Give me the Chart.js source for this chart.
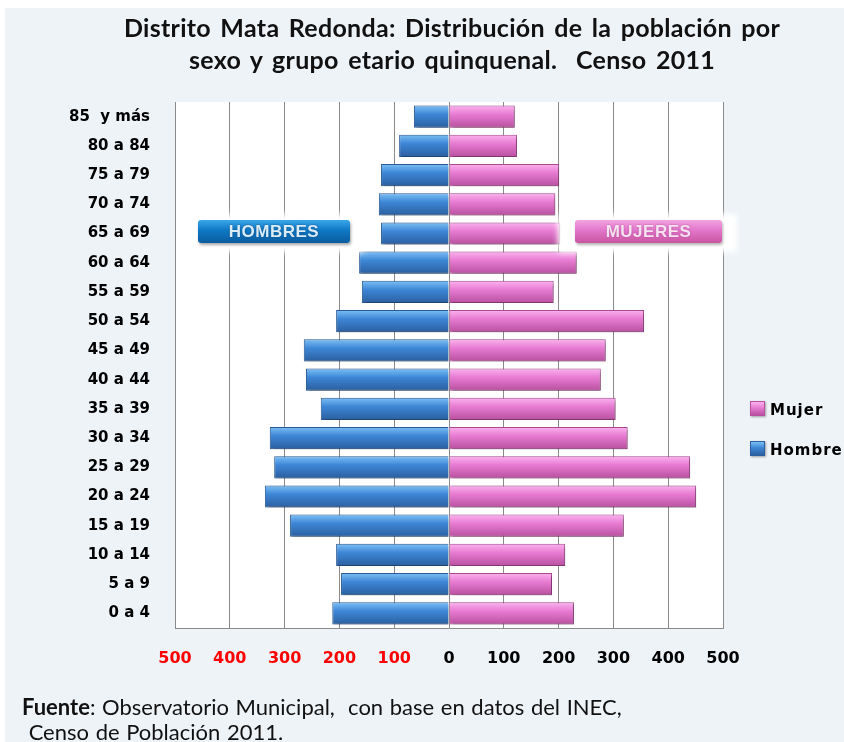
<!DOCTYPE html>
<html>
<head>
<meta charset="utf-8">
<script src="https://cdn.jsdelivr.net/npm/chart.js@4.4.0/dist/chart.umd.min.js"></script>
<style>
  body { margin: 0; background: #fff; width: 844px; height: 742px; overflow: hidden; position: relative; font-family: Lato, "Noto Sans", sans-serif; }
  #frame { position: absolute; left: 5px; top: 8px; width: 839px; height: 734px; background: #eef3f8; }
  #chart { position: absolute; left: 0; top: 0; }
  #title { position: absolute; left: 52px; top: 11px; width: 800px; text-align: center; font-weight: bold; font-size: 25px; line-height: 32px; color: #111; letter-spacing: 0.3px; word-spacing: 3px; white-space: pre; }
  .glow { position: absolute; background: #fff; box-shadow: 0 0 6px 4px #fff; }
  .badge { position: absolute; height: 23px; border-radius: 3px; color: #fff; font-family: "Liberation Sans", Arial, sans-serif; font-weight: bold; font-size: 17px; line-height: 23px; text-align: center; letter-spacing: 0.5px; }
  #hb { left: 198px; top: 220px; width: 152px; background: linear-gradient(#3aa6ea, #0f78c4 45%, #0b5c9e); text-shadow: 0 0 2px #0b4a80; color: #d9ecf8; box-shadow: 1px 2px 3px rgba(0,0,0,0.35); }
  #mb { left: 575px; top: 220px; width: 147px; background: linear-gradient(#f3a3e0, #e276cb 45%, #c9559f); color: #f6e3f1; text-shadow: 0 0 2px #b04a94; box-shadow: 1px 2px 3px rgba(0,0,0,0.3); }
  #legend { position: absolute; left: 750px; top: 400px; font-family: "DejaVu Sans", sans-serif; font-weight: bold; font-size: 15px; letter-spacing: 1px; }
  .item { height: 20px; line-height: 20px; margin-bottom: 20px; white-space: nowrap; }
  .sw { display: inline-block; width: 13px; height: 13px; vertical-align: -1px; margin-right: 5px; box-shadow: 1px 1px 2px rgba(0,0,0,0.35); }
  #note { position: absolute; left: 22px; top: 694px; font-size: 22px; line-height: 25px; color: #111; white-space: pre; word-spacing: 1px; }
</style>
</head>
<body>
<div id="frame"></div>
<canvas id="chart" width="844" height="742"></canvas>
<div id="title">Distrito Mata Redonda: Distribución de la población por
sexo y grupo etario quinquenal.  Censo 2011</div>
<div class="glow" style="left:188px;top:218px;width:172px;height:30px"></div>
<div class="glow" style="left:562px;top:218px;width:171px;height:30px"></div>
<div class="badge" id="hb">HOMBRES</div>
<div class="badge" id="mb">MUJERES</div>
<div id="legend"></div>
<div id="note"><b>Fuente</b>: Observatorio Municipal,  con base en datos del INEC,
 Censo de Población 2011.</div>
<script>
const ageGroups = ['85  y más', '80 a 84', '75 a 79', '70 a 74', '65 a 69', '60 a 64', '55 a 59', '50 a 54', '45 a 49',
  '40 a 44', '35 a 39', '30 a 34', '25 a 29', '20 a 24', '15 a 19', '10 a 14', '5 a 9', '0 a 4']
const hombre = [64, 91, 124, 128, 124, 164, 159, 206, 265, 261, 234, 327, 319, 336, 290, 206, 197, 213]
const mujer = [120, 124, 201, 194, 203, 233, 191, 356, 286, 277, 304, 326, 440, 451, 319, 212, 188, 228]
const xTicks = [-500, -400, -300, -200, -100, 0, 100, 200, 300, 400, 500]

const blueStops = ['#7cc0f5', '#3d86d6', '#2b5f9f']
const pinkStops = ['#fbb2ee', '#e77bd2', '#b9509f']

// vertical gradient for each bar, looks like the 3d excel bars
function barGradient(stops) {
  return function (c) {
    const chart = c.chart
    if (!chart.chartArea || c.dataIndex === undefined) return stops[1]
    const y = chart.scales.y.getPixelForValue(c.dataIndex)
    const h = 11
    const g = chart.ctx.createLinearGradient(0, y - h, 0, y + h)
    g.addColorStop(0, stops[0])
    g.addColorStop(0.4, stops[1])
    g.addColorStop(1, stops[2])
    return g
  }
}

const plotBg = {
  id: 'plotBg',
  beforeDraw(chart) {
    const { ctx, chartArea } = chart
    ctx.save()
    ctx.fillStyle = '#fff'
    ctx.fillRect(chartArea.left, chartArea.top, chartArea.width, chartArea.height)
    ctx.restore()
  }
}

const barShadow = {
  id: 'barShadow',
  beforeDatasetsDraw(chart) {
    const ctx = chart.ctx
    ctx.save()
    ctx.shadowColor = 'rgba(0,0,0,0.35)'
    ctx.shadowBlur = 3
    ctx.shadowOffsetX = 2
    ctx.shadowOffsetY = 2
  },
  afterDatasetsDraw(chart) {
    chart.ctx.restore()
  }
}

let pyramid

function init() {
  pyramid = new Chart(document.getElementById('chart'), {
    type: 'bar',
    data: {
      labels: ageGroups,
      datasets: [
        {
          label: 'Hombre',
          data: hombre.map(v => -v),
          backgroundColor: barGradient(blueStops),
          borderColor: '#2a5a95',
          borderWidth: 1,
          barPercentage: 0.76,
          categoryPercentage: 1
        },
        {
          label: 'Mujer',
          data: mujer,
          backgroundColor: barGradient(pinkStops),
          borderColor: '#a84892',
          borderWidth: 1,
          barPercentage: 0.76,
          categoryPercentage: 1
        }
      ]
    },
    options: {
      indexAxis: 'y',
      responsive: false,
      animation: false,
      layout: { padding: { top: 102, right: 121, left: 0, bottom: 0 } },
      plugins: { legend: { display: false }, tooltip: { enabled: false } },
      scales: {
        x: {
          stacked: true,
          min: xTicks[0],
          max: xTicks[xTicks.length - 1],
          afterBuildTicks: axis => { axis.ticks = xTicks.map(v => ({ value: v })) },
          afterFit: axis => { axis.height = 114 },
          grid: { color: '#8a8a8a', lineWidth: 1, drawTicks: false },
          border: { color: '#8a8a8a', width: 1 },
          ticks: {
            padding: 21,
            color: c => c.tick.value < 0 ? '#ff0000' : '#000',
            font: { family: 'DejaVu Sans', weight: 'bold', size: 16 },
            callback: v => Math.abs(v)
          }
        },
        y: {
          stacked: true,
          afterFit: axis => { axis.width = 175 },
          grid: { display: false, drawTicks: false },
          border: { color: '#8a8a8a', width: 1 },
          ticks: {
            padding: 25,
            color: '#000',
            font: { family: 'DejaVu Sans', weight: 'bold', size: 15 }
          }
        }
      }
    },
    plugins: [plotBg, barShadow]
  })

  // legend (Mujer first like the original)
  const legend = document.getElementById('legend')
  const items = [[pyramid.data.datasets[1].label, pinkStops], [pyramid.data.datasets[0].label, blueStops]]
  items.forEach(([name, stops]) => {
    const row = document.createElement('div')
    row.className = 'item'
    row.innerHTML = `<span class="sw" style="background:linear-gradient(${stops[0]},${stops[1]} 45%,${stops[2]});border:1px solid ${stops[2]}"></span>${name}`
    legend.appendChild(row)
  })
}

init()
</script>
</body>
</html>
